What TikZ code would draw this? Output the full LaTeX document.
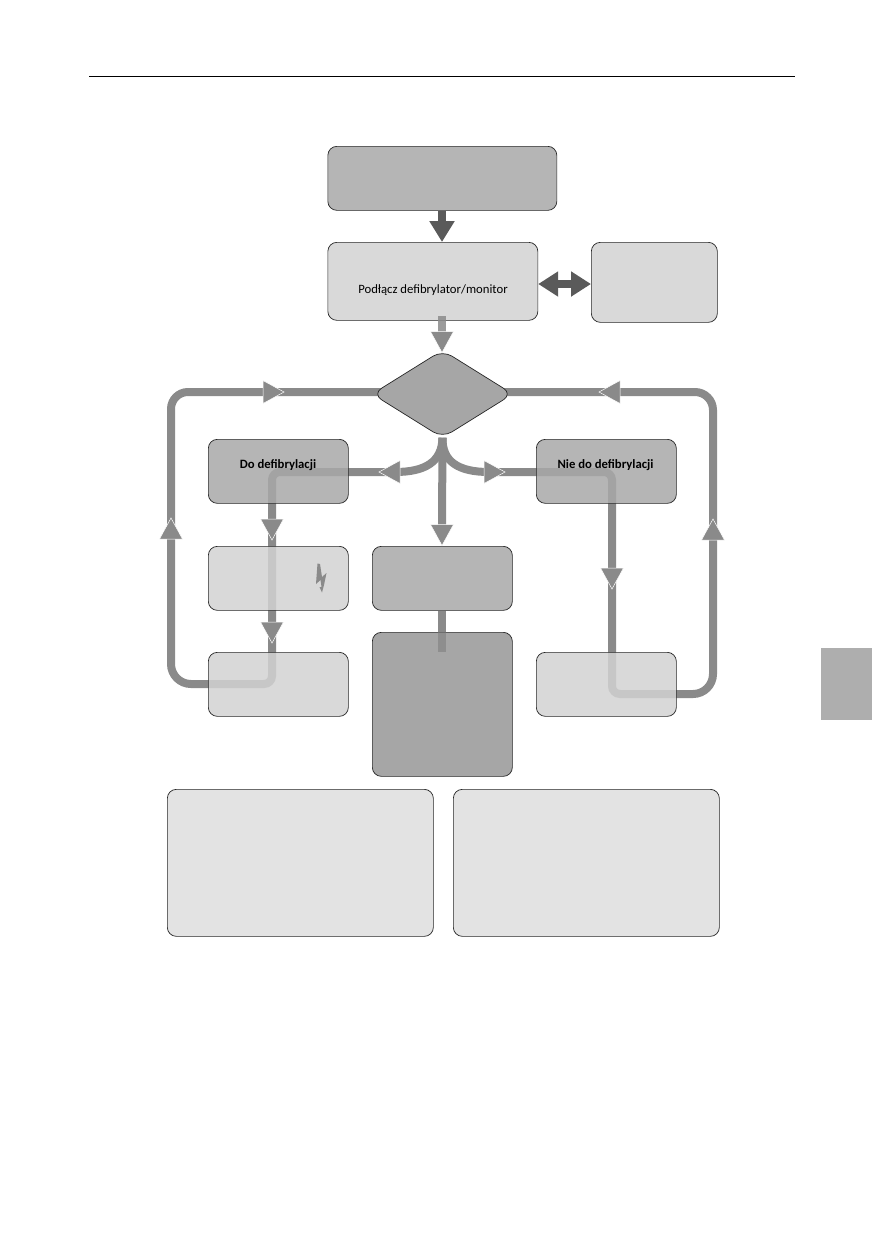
\documentclass[tikz,border=0pt]{standalone}
\usepackage{fontspec}
\setmainfont{Carlito}
\usetikzlibrary{shapes.geometric,arrows.meta,backgrounds,positioning}
\definecolor{flowgray}{HTML}{8A8A8A}
\definecolor{heavygray}{HTML}{5A5A5A}
\definecolor{boxdark}{HTML}{A6A6A6}
\definecolor{boxmid}{HTML}{A8A8A8}
\definecolor{boxlight}{HTML}{D2D2D2}
\definecolor{boxdeep}{HTML}{969696}
\definecolor{boxpale}{HTML}{DEDEDE}
\definecolor{tabgray}{HTML}{AEAEAE}
\tikzset{
  card/.style={draw=black!85,line width=.7pt,rounded corners=9pt,fill opacity=.85,text opacity=1,
    inner sep=0pt,anchor=north west},
  flow/.style={draw=flowgray,line width=8pt},
  heavy/.style={draw=heavygray,line width=8pt},
  heavytip/.style={-{Triangle[length=21pt,width=24pt]}},
  heavyboth/.style={{Triangle[length=20pt,width=24pt]}-{Triangle[length=20pt,width=24pt]}},
  flowhead/.style={fill=flowgray,draw=white,line width=.5pt,line join=miter}
}
% Arrowhead on a flow line: tip at (#1), pointing along canvas angle #2
\newcommand{\flowhead}[2]{\path[flowhead,shift={(#1)},rotate=#2] (0pt,0pt) -- (-21pt,11.5pt) -- (-21pt,-11.5pt) -- cycle;}
\begin{document}
\begin{tikzpicture}[x=1pt,y=-1pt]
\useasboundingbox (0,0) rectangle (872,1254);

% page furniture
\coordinate (ruleL) at (89,76);
\coordinate (ruleR) at (795,76);
\draw[line width=.8pt] (ruleL) -- (ruleR);
\fill[tabgray] (821,648) rectangle (872,720);

% boxes
\node[card,fill=boxmid,minimum width=229pt,minimum height=64pt] (start) at (327.5,146) {};
\node[card,fill=boxlight,minimum width=210pt,minimum height=78pt] (connect) at (327.5,242) {};
\node[card,fill=boxlight,minimum width=126pt,minimum height=80pt] (help) at (591,242) {};
\node[shape=diamond,draw=black!85,line width=.7pt,fill=boxdark,rounded corners=11pt,inner sep=0pt,outer sep=0pt,
  minimum width=140.5pt,minimum height=87.5pt] (rhythm) at (442.5,394) {};
\node[card,fill=boxmid,minimum width=140pt,minimum height=64pt] (shockable) at (208,439) {};
\node[card,fill=boxmid,minimum width=140pt,minimum height=64pt] (nonshock) at (536,439) {};
\node[card,fill=boxlight,minimum width=140pt,minimum height=64pt] (shock) at (208,546) {};
\node[card,fill=boxmid,minimum width=140pt,minimum height=64pt] (rosc) at (372,546) {};
\node[card,fill=boxdeep,minimum width=140pt,minimum height=144pt] (post) at (372,632) {};
\node[card,fill=boxlight,minimum width=140pt,minimum height=64pt] (cprL) at (208,652) {};
\node[card,fill=boxlight,minimum width=140pt,minimum height=64pt] (cprR) at (536,652) {};
\node[card,fill=boxpale,minimum width=266pt,minimum height=147pt] (notesL) at (167,789) {};
\node[card,fill=boxpale,minimum width=266pt,minimum height=147pt] (notesR) at (453,789) {};

% labels
\node[font=\fontsize{12.7}{14}\selectfont] (connectText) at (433,290) {Podłącz defibrylator/monitor};
\node[font=\bfseries\fontsize{12.7}{14}\selectfont] (shockText) at (278,465.5) {Do defibrylacji};
\node[font=\bfseries\fontsize{12.7}{14}\selectfont] (nonshockText) at (605.5,465.5) {Nie do defibrylacji};

% lightning bolt on the shock box
\fill[flowgray] (317.5,563.5) -- (320,564) -- (322,577) -- (326.5,573) -- (324,585) -- (322,592.5) -- (319.5,587) -- (321.5,587) -- (320.5,580) -- (316,584) -- cycle;

% waypoints of the flow lines
\coordinate (branchL) at (272,472);
\coordinate (cornerLL) at (272,684);
\coordinate (cornerLO) at (171,684);
\coordinate (cornerLT) at (171,392);
\coordinate (branchR) at (612,472);
\coordinate (cornerRL) at (612,694);
\coordinate (cornerRO) at (713,694);
\coordinate (cornerRT) at (713,392);
\coordinate (postStub) at (442,652);
\coordinate (connectStub) at (442,316);

\begin{scope}[on background layer]
  \draw[flow] (rhythm.south) .. controls (442,462) and (425,472) .. (395,472)
    [rounded corners=8pt] -- (branchL) -- (cornerLL)
    [rounded corners=20pt] -- (cornerLO)
    [rounded corners=17pt] -- (cornerLT) -- (rhythm.center |- cornerLT);
  \draw[flow] (rhythm.south) .. controls (442,462) and (459,472) .. (489,472)
    [rounded corners=8pt] -- (branchR) -- (cornerRL)
    [rounded corners=20pt] -- (cornerRO)
    [rounded corners=18pt] -- (cornerRT) -- (rhythm.center |- cornerRT);
  \draw[flow] (rhythm.south) -- (442,526);
  \draw[flow] (rosc.south -| postStub) -- (postStub);
\end{scope}

% stubs that sit above the fill of the boxes they leave
\draw[flowgray,line width=8pt,opacity=.85] (connectStub) -- (442,334);
\draw[flowgray,line width=8pt,opacity=.55] (442,632) -- (postStub);

% heavy arrows
\draw[heavy,heavytip] (start.south -| 442,0) -- (connect.north -| 442,0);
\draw[heavy,heavyboth] (connect.east |- 0,284) -- (help.west |- 0,284);

% arrowheads
\flowhead{442,352.5}{-90}
\flowhead{442,545.5}{-90}
\flowhead{284,392}{0}
\flowhead{599,392}{180}
\flowhead{379,472}{180}
\flowhead{505,472}{0}
\flowhead{272,540}{-90}
\flowhead{272,643}{-90}
\flowhead{612,589}{-90}
\flowhead{171,518}{90}
\flowhead{713,519}{90}
\end{tikzpicture}
\end{document}
